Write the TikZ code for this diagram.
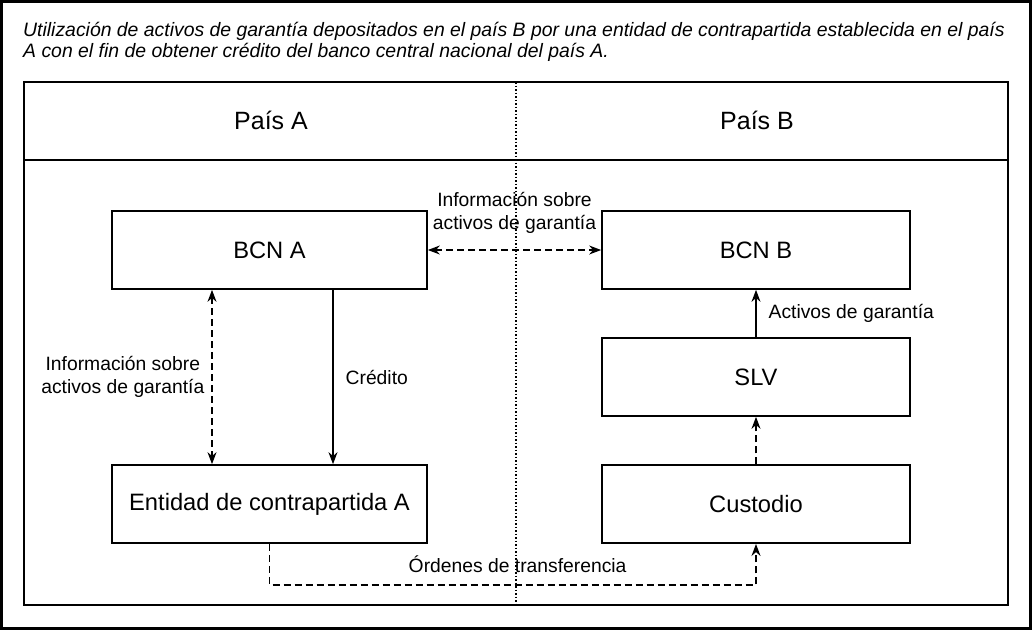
\documentclass[tikz,border=0pt]{standalone}
\usepackage{fontspec}
\setmainfont{Liberation Sans}
\usetikzlibrary{positioning,arrows.meta}
\tikzset{
  entbox/.style={draw, line width=1.7pt, minimum width=315pt, minimum height=78pt, inner sep=0pt, align=center, font=\fontsize{23.7}{28}\selectfont},
  paisbox/.style={font=\fontsize{25}{30}\selectfont},
  lbl/.style={align=center, inner sep=2pt, font=\fontsize{19.3}{23}\selectfont},
  flujo/.style={-{Stealth[length=12pt, width=9pt]}, line width=1.3pt},
  flujodash/.style={flujo, dash pattern=on 7pt off 4pt},
  info/.style={{Stealth[length=12pt, width=9pt]}-{Stealth[length=12pt, width=9pt]}, line width=1.3pt, dash pattern=on 7pt off 4pt}
}

\begin{document}
\begin{tikzpicture}[x=1pt, y=-1pt]
  \useasboundingbox (0,0) rectangle (1032,630);
  \draw[line width=3pt] (1.5,1.5) rectangle (1030.5,628.5);

  \node[anchor=north west, align=left, inner sep=0pt, font=\itshape\fontsize{19.4}{21}\selectfont] (titulo) at (23,22)
    {Utilización de activos de garantía depositados en el país B por una entidad de contrapartida establecida en el país\\
     A con el fin de obtener crédito del banco central nacional del país A.};

  \draw[line width=2pt] (24,82) rectangle (1008,605);
  \draw[line width=2pt] (24,160) -- (1008,160);
  \draw[line width=1.5pt, dash pattern=on 1.5pt off 2pt] (516,82) -- (516,605);

  \node[paisbox] (paisa) at (271,120) {País A};
  \node[paisbox] (paisb) at (757,120) {País B};

  \node[entbox] (bcna) at (269.5,250) {BCN A};
  \node[entbox, minimum width=308pt, right=173.3pt of bcna] (bcnb) {BCN B};
  \node[entbox, minimum width=308pt, below=47.3pt of bcnb] (slv) {SLV};
  \node[entbox, minimum width=308pt, below=47.4pt of slv] (cust) {Custodio};
  \node[entbox, below=174.3pt of bcna] (ent) {Entidad de contrapartida A};

  \draw[info] (bcna.east) -- node[lbl, midway, above=14pt] (infob) {Información sobre\\activos de garantía} (bcnb.west);
  \draw[info] ([xshift=-57.5pt]bcna.south) -- node[lbl, midway, left=5pt] (infoa) {Información sobre\\activos de garantía} ([xshift=-57.5pt]ent.north);
  \draw[flujo] ([xshift=63.5pt]bcna.south) -- node[lbl, midway, right=10pt] (cred) {Crédito} ([xshift=63.5pt]ent.north);
  \draw[flujo] (slv.north) -- node[lbl, midway, right=10pt] (activos) {Activos de garantía} (bcnb.south);
  \draw[flujodash] (cust.north) -- (slv.south);
  \draw[flujodash] (ent.south) -- ++(0,41) -| node[lbl, pos=0.255, above=10pt] (ordenes) {Órdenes de transferencia} (cust.south);
\end{tikzpicture}
\end{document}
